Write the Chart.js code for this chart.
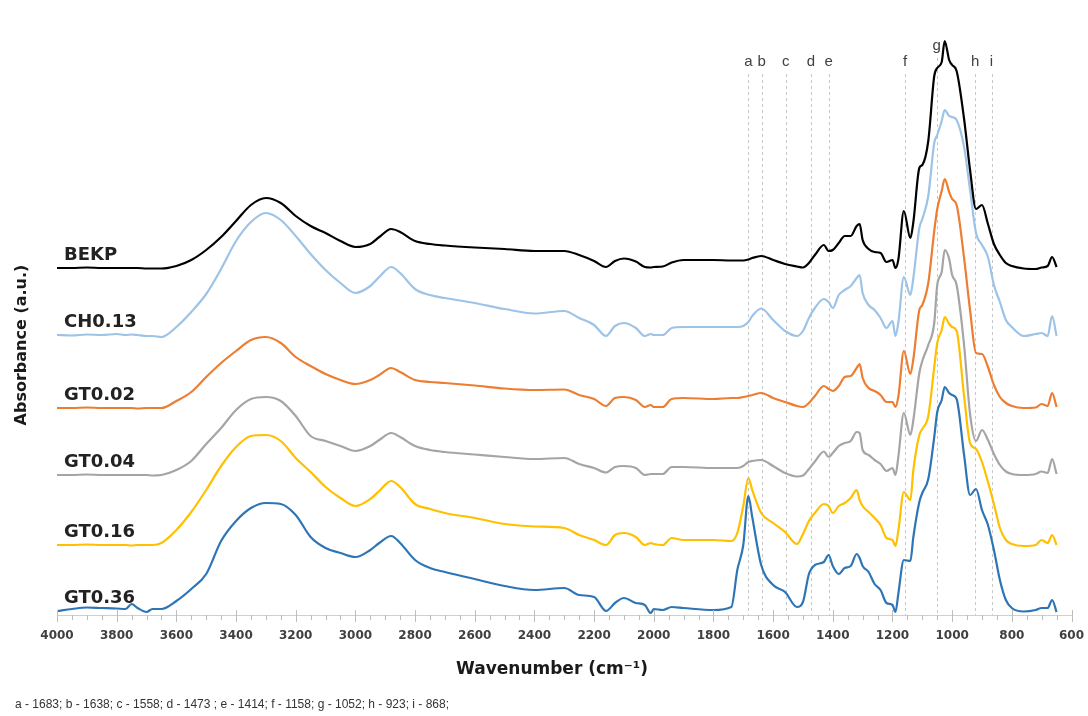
<!DOCTYPE html>
<html>
<head>
<meta charset="utf-8">
<script src="https://cdn.jsdelivr.net/npm/chart.js@4.4.1/dist/chart.umd.min.js"></script>
<style>
html,body{margin:0;padding:0;background:#ffffff;}
#wrap{width:1088px;height:716px;position:relative;}
</style>
</head>
<body>
<div id="wrap"><canvas id="c" width="1088" height="716"></canvas></div>
<script>
// Wavenumber grid (cm-1)
const wavenumbers = [
  4000, 3950, 3900, 3850, 3800, 3770, 3750, 3730, 3700, 3680,
  3650, 3600, 3550, 3500, 3450, 3400, 3350, 3300, 3250, 3200,
  3150, 3100, 3050, 3000, 2950, 2920, 2880, 2850, 2800, 2750,
  2700, 2600, 2500, 2400, 2300, 2250, 2200, 2160, 2130, 2100,
  2060, 2030, 2010, 2000, 1970, 1940, 1900, 1800, 1740, 1720, 1700,
  1683, 1670, 1640, 1600, 1560, 1520, 1500, 1480, 1460, 1430,
  1414, 1400, 1380, 1360, 1340, 1320, 1310, 1300, 1280, 1260,
  1240, 1220, 1200, 1190, 1180, 1162, 1140, 1130, 1110, 1100,
  1080, 1060, 1050, 1035, 1025, 1010, 1000, 985, 960, 940,
  920, 900, 880, 860, 840, 820, 800, 760, 720, 700,
  680, 665, 650
];

// Absorbance (a.u., stacked offsets as plotted)
const BEKP = [
  3.47, 3.47, 3.475, 3.47, 3.47, 3.47, 3.47, 3.47, 3.465, 3.465,
  3.465, 3.49, 3.55, 3.65, 3.78, 3.94, 4.10, 4.17, 4.12, 3.99,
  3.89, 3.82, 3.74, 3.68, 3.71, 3.78, 3.86, 3.83, 3.74, 3.71,
  3.695, 3.675, 3.66, 3.64, 3.64, 3.60, 3.54, 3.48, 3.54, 3.565,
  3.535, 3.48, 3.475, 3.48, 3.485, 3.525, 3.55, 3.55, 3.545, 3.545, 3.545,
  3.555, 3.57, 3.59, 3.55, 3.51, 3.485, 3.475, 3.52, 3.60, 3.70,
  3.64, 3.65, 3.72, 3.79, 3.79, 3.89, 3.91, 3.75, 3.66, 3.63,
  3.62, 3.53, 3.55, 3.47, 3.56, 4.04, 3.77, 3.93, 4.47, 4.50,
  4.74, 5.39, 5.47, 5.53, 5.74, 5.55, 5.50, 5.44, 4.96, 4.45,
  4.06, 4.10, 3.91, 3.71, 3.60, 3.52, 3.49, 3.465, 3.46, 3.475,
  3.49, 3.58, 3.48
];
const CH013 = [
  2.80, 2.795, 2.805, 2.80, 2.81, 2.80, 2.805, 2.80, 2.79, 2.79,
  2.78, 2.88, 3.03, 3.21, 3.46, 3.74, 3.93, 4.02, 3.95, 3.79,
  3.61, 3.45, 3.32, 3.22, 3.29, 3.38, 3.48, 3.42, 3.26, 3.20,
  3.17, 3.12, 3.06, 3.015, 3.04, 2.97, 2.90, 2.79, 2.89, 2.92,
  2.87, 2.79, 2.81, 2.80, 2.80, 2.87, 2.88, 2.88, 2.88, 2.88, 2.89,
  2.93, 2.99, 3.065, 2.95, 2.84, 2.79, 2.84, 2.97, 3.07, 3.16,
  3.13, 3.07, 3.20, 3.25, 3.29, 3.37, 3.40, 3.22, 3.10, 3.05,
  2.97, 2.87, 2.94, 2.79, 2.93, 3.38, 3.20, 3.37, 3.87, 3.96,
  4.19, 4.72, 4.80, 4.94, 5.05, 4.99, 4.98, 4.95, 4.68, 4.25,
  3.82, 3.70, 3.58, 3.30, 3.13, 2.95, 2.88, 2.79, 2.81, 2.82,
  2.79, 2.99, 2.79
];
const GT002 = [
  2.07, 2.07, 2.075, 2.07, 2.07, 2.07, 2.07, 2.065, 2.07, 2.07,
  2.07, 2.14, 2.23, 2.38, 2.52, 2.64, 2.75, 2.78, 2.72, 2.58,
  2.49, 2.41, 2.35, 2.31, 2.35, 2.40, 2.47, 2.43, 2.35, 2.33,
  2.32, 2.295, 2.265, 2.25, 2.255, 2.20, 2.16, 2.09, 2.17, 2.18,
  2.15, 2.08, 2.10, 2.08, 2.08, 2.16, 2.17, 2.16, 2.17, 2.17, 2.18,
  2.19, 2.20, 2.22, 2.17, 2.13, 2.09, 2.08, 2.12, 2.19, 2.29,
  2.26, 2.24, 2.29, 2.38, 2.39, 2.47, 2.51, 2.37, 2.27, 2.24,
  2.20, 2.13, 2.13, 2.08, 2.19, 2.64, 2.41, 2.56, 3.05, 3.10,
  3.32, 3.84, 4.06, 4.24, 4.36, 4.23, 4.16, 4.10, 3.57, 3.05,
  2.62, 2.61, 2.48, 2.30, 2.18, 2.12, 2.09, 2.07, 2.075, 2.11,
  2.09, 2.22, 2.08
];
const GT004 = [
  1.40, 1.40, 1.405, 1.40, 1.40, 1.40, 1.40, 1.40, 1.40, 1.395,
  1.40, 1.45, 1.54, 1.71, 1.87, 2.05, 2.16, 2.18, 2.14, 1.99,
  1.79, 1.74, 1.69, 1.64, 1.69, 1.75, 1.82, 1.78, 1.69, 1.65,
  1.63, 1.605, 1.58, 1.56, 1.57, 1.51, 1.47, 1.425, 1.48, 1.49,
  1.47, 1.40, 1.41, 1.41, 1.41, 1.48, 1.48, 1.47, 1.47, 1.47, 1.49,
  1.53, 1.54, 1.55, 1.49, 1.42, 1.385, 1.395, 1.46, 1.535, 1.635,
  1.58, 1.62, 1.69, 1.72, 1.74, 1.83, 1.82, 1.65, 1.60, 1.55,
  1.51, 1.44, 1.47, 1.40, 1.59, 2.02, 1.80, 1.95, 2.42, 2.54,
  2.70, 2.92, 3.30, 3.43, 3.65, 3.56, 3.40, 3.30, 2.70, 2.01,
  1.74, 1.85, 1.75, 1.61, 1.50, 1.435, 1.41, 1.40, 1.41, 1.435,
  1.42, 1.56, 1.41
];
const GT016 = [
  0.70, 0.70, 0.705, 0.70, 0.70, 0.70, 0.695, 0.70, 0.70, 0.70,
  0.72, 0.85, 1.03, 1.25, 1.49, 1.68, 1.79, 1.80, 1.74, 1.57,
  1.43, 1.28, 1.17, 1.09, 1.16, 1.24, 1.34, 1.28, 1.11, 1.06,
  1.02, 0.97, 0.91, 0.885, 0.87, 0.80, 0.75, 0.70, 0.80, 0.82,
  0.78, 0.70, 0.72, 0.71, 0.70, 0.77, 0.75, 0.75, 0.74, 0.82, 1.09,
  1.37, 1.25, 1.02, 0.92, 0.83, 0.71, 0.81, 0.94, 1.02, 1.11,
  1.09, 1.02, 1.09, 1.12, 1.17, 1.25, 1.15, 1.09, 1.03, 0.97,
  0.90, 0.77, 0.75, 0.69, 0.85, 1.23, 1.15, 1.45, 1.80, 1.86,
  1.99, 2.48, 2.72, 2.85, 2.98, 2.91, 2.88, 2.84, 2.19, 1.72,
  1.66, 1.53, 1.33, 1.11, 0.87, 0.75, 0.71, 0.69, 0.70, 0.75,
  0.72, 0.80, 0.70
];
const GT036 = [
  0.04, 0.06, 0.075, 0.07, 0.065, 0.06, 0.11, 0.07, 0.03, 0.06,
  0.06, 0.14, 0.26, 0.41, 0.74, 0.94, 1.07, 1.12, 1.11, 1.00,
  0.78, 0.67, 0.62, 0.58, 0.65, 0.72, 0.79, 0.72, 0.55, 0.47,
  0.43, 0.36, 0.29, 0.25, 0.27, 0.20, 0.18, 0.04, 0.12, 0.17,
  0.12, 0.10, 0.02, 0.06, 0.05, 0.08, 0.07, 0.05, 0.08, 0.45, 0.70,
  1.19, 0.98, 0.50, 0.30, 0.23, 0.08, 0.13, 0.41, 0.50, 0.53,
  0.60, 0.49, 0.41, 0.47, 0.49, 0.61, 0.57, 0.49, 0.43, 0.31,
  0.25, 0.12, 0.10, 0.03, 0.22, 0.55, 0.54, 0.78, 1.13, 1.22,
  1.36, 1.78, 2.03, 2.15, 2.28, 2.22, 2.20, 2.16, 1.60, 1.20,
  1.26, 1.05, 0.90, 0.65, 0.35, 0.15, 0.07, 0.035, 0.05, 0.07,
  0.07, 0.15, 0.03
];

const seriesNames = ['BEKP', 'CH0.13', 'GT0.02', 'GT0.04', 'GT0.16', 'GT0.36'];
const seriesValues = [BEKP, CH013, GT002, GT004, GT016, GT036];
const seriesColors = ['#000000', '#9DC3E6', '#ED7D31', '#A5A5A5', '#FFC000', '#2E75B6'];

const peakLetters = ['a', 'b', 'c', 'd', 'e', 'f', 'g', 'h', 'i'];
const peakWavenumbers = [1683, 1638, 1558, 1473, 1414, 1158, 1052, 923, 868];
const captionText = 'a - 1683; b - 1638; c - 1558; d - 1473 ; e - 1414; f - 1158; g - 1052; h - 923; i - 868;';

const xMin = 600, xMax = 4000, xStep = 200, xMinorStep = 50;

const datasets = seriesNames.map((name, i) => ({
  label: name,
  data: wavenumbers.map((w, j) => ({ x: w, y: seriesValues[i][j] })),
  borderColor: seriesColors[i],
  backgroundColor: seriesColors[i],
  borderWidth: 2.2,
  pointRadius: 0,
  fill: false,
  cubicInterpolationMode: 'monotone'
}));

const overlay = {
  id: 'overlay',
  beforeDatasetsDraw(chart) {
    const { ctx, chartArea, scales } = chart;
    const xs = scales.x;
    ctx.save();
    ctx.strokeStyle = '#c8c8c8';
    ctx.lineWidth = 1;
    ctx.setLineDash([3, 3]);
    peakWavenumbers.forEach((w, i) => {
      const px = Math.round(xs.getPixelForValue(w)) + 0.5;
      const top = peakLetters[i] === 'g' ? 58 : 74;
      ctx.beginPath();
      ctx.moveTo(px, top);
      ctx.lineTo(px, chartArea.bottom);
      ctx.stroke();
    });
    ctx.restore();
  },
  afterDraw(chart) {
    const { ctx, chartArea, scales } = chart;
    const xs = scales.x, ys = scales.y;
    const bottom = chartArea.bottom;
    ctx.save();
    // axis ticks (major crossing the axis, minor below)
    ctx.strokeStyle = '#bdbdbd';
    ctx.lineWidth = 1;
    for (let v = xMin; v <= xMax; v += xMinorStep) {
      const px = Math.round(xs.getPixelForValue(v)) + 0.5;
      ctx.beginPath();
      if (v % xStep === 0) { ctx.moveTo(px, bottom - 5); ctx.lineTo(px, bottom + 7); }
      else { ctx.moveTo(px, bottom); ctx.lineTo(px, bottom + 5); }
      ctx.stroke();
    }
    // peak letters
    ctx.fillStyle = '#404040';
    ctx.font = '15px "Liberation Sans", Arial, sans-serif';
    ctx.textAlign = 'center';
    ctx.textBaseline = 'middle';
    peakLetters.forEach((l, i) => {
      const px = xs.getPixelForValue(peakWavenumbers[i]);
      ctx.fillText(l, px, l === 'g' ? 46 : 62);
    });
    // series labels
    ctx.fillStyle = '#222222';
    ctx.font = 'bold 18px "DejaVu Sans", sans-serif';
    ctx.textAlign = 'left';
    ctx.textBaseline = 'alphabetic';
    seriesNames.forEach((n, i) => {
      const py = ys.getPixelForValue(seriesValues[i][0]);
      ctx.fillText(n, 64, py - 8);
    });
    // x axis title
    ctx.fillStyle = '#1a1a1a';
    ctx.font = 'bold 17px "DejaVu Sans", sans-serif';
    ctx.textAlign = 'center';
    ctx.textBaseline = 'middle';
    ctx.fillText('Wavenumber (cm\u207B\u00B9)', 552, 670);
    // y axis title
    ctx.save();
    ctx.translate(22, 345);
    ctx.rotate(-Math.PI / 2);
    ctx.font = 'bold 16px "DejaVu Sans", sans-serif';
    ctx.fillText('Absorbance (a.u.)', 0, 0);
    ctx.restore();
    // caption
    ctx.fillStyle = '#333333';
    ctx.font = '12px "Liberation Sans", Arial, sans-serif';
    ctx.textAlign = 'left';
    ctx.textBaseline = 'middle';
    ctx.fillText(captionText, 15, 705);
    ctx.restore();
  }
};

new Chart(document.getElementById('c'), {
  type: 'line',
  data: { datasets },
  options: {
    responsive: false,
    animation: false,
    layout: { padding: { left: 57, right: 16.5, top: 15, bottom: 71 } },
    plugins: { legend: { display: false }, tooltip: { enabled: false } },
    scales: {
      x: {
        type: 'linear',
        reverse: true,
        min: xMin,
        max: xMax,
        afterFit: (s) => { s.height = 30; },
        border: { display: true, color: '#cfcfcf', width: 1 },
        grid: { display: true, drawOnChartArea: false, drawTicks: true, tickLength: 11, color: 'rgba(0,0,0,0)' },
        ticks: {
          stepSize: xStep,
          padding: 3,
          autoSkip: false,
          maxRotation: 0,
          color: '#404040',
          font: { family: '"DejaVu Sans", sans-serif', size: 12, weight: 'bold' },
          callback: (v) => String(v)
        }
      },
      y: { display: false, min: 0, max: 6 }
    }
  },
  plugins: [overlay]
});
</script>
</body>
</html>
